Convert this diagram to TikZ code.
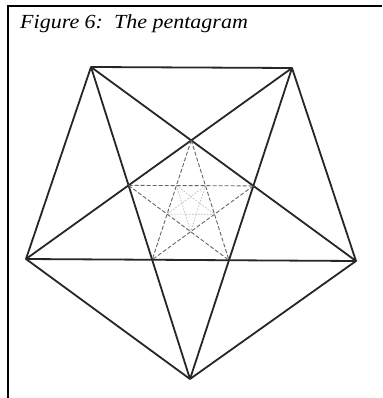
\documentclass[tikz,border=0pt]{standalone}
\usepackage{fontspec}
\setmainfont{Liberation Serif}
\begin{document}
\begin{tikzpicture}[x=1pt,y=-1pt,
  outerline/.style={line width=1.8pt,black!85,line join=round},
  dashline/.style={line width=0.9pt,black!60,dash pattern=on 4pt off 2pt},
  dotline/.style={line width=0.6pt,black!30,dash pattern=on 1.5pt off 1.5pt},
  frameline/.style={line width=2pt,black}]
\useasboundingbox (0,0) rectangle (382,398);
\fill[white] (0,0) rectangle (382,398);
% frame (top and left only)
\coordinate (F1) at (8,398);
\coordinate (F2) at (8,6);
\coordinate (F3) at (382,6);
\draw[frameline] (F1) -- (F2) -- (F3);
% title
\node[anchor=base west,inner sep=0pt,font=\fontsize{20}{24}\selectfont\itshape] (title) at (20,29) {\scalebox{1.1}[1]{Figure 6:\enspace The pentagram}};
% outer pentagon
\coordinate (A) at (91,67);
\coordinate (B) at (292,68);
\coordinate (C) at (356,261);
\coordinate (D) at (190,379);
\coordinate (E) at (26,259);
\draw[outerline] (A) -- (B) -- (C) -- (D) -- (E) -- cycle;
\draw[outerline] (A) -- (C);
\draw[outerline] (A) -- (D);
\draw[outerline] (B) -- (E);
\draw[outerline] (B) -- (D);
\draw[outerline] (E) -- (C);
% inner pentagon vertices
\coordinate (t) at (intersection of A--C and B--E);
\coordinate (r) at (intersection of A--C and B--D);
\coordinate (br) at (intersection of B--D and E--C);
\coordinate (bl) at (intersection of E--C and A--D);
\coordinate (l) at (intersection of A--D and B--E);
% dashed star
\draw[dashline] (t) -- (bl);
\draw[dashline] (t) -- (br);
\draw[dashline] (l) -- (r);
\draw[dashline] (l) -- (br);
\draw[dashline] (r) -- (bl);
% innermost pentagon
\coordinate (q1) at (intersection of l--r and t--bl);
\coordinate (q2) at (intersection of l--r and t--br);
\coordinate (q3) at (intersection of t--br and r--bl);
\coordinate (q4) at (intersection of l--br and r--bl);
\coordinate (q5) at (intersection of t--bl and l--br);
\draw[dotline] (q1) -- (q3);
\draw[dotline] (q1) -- (q4);
\draw[dotline] (q2) -- (q4);
\draw[dotline] (q2) -- (q5);
\draw[dotline] (q3) -- (q5);
\end{tikzpicture}
\end{document}
